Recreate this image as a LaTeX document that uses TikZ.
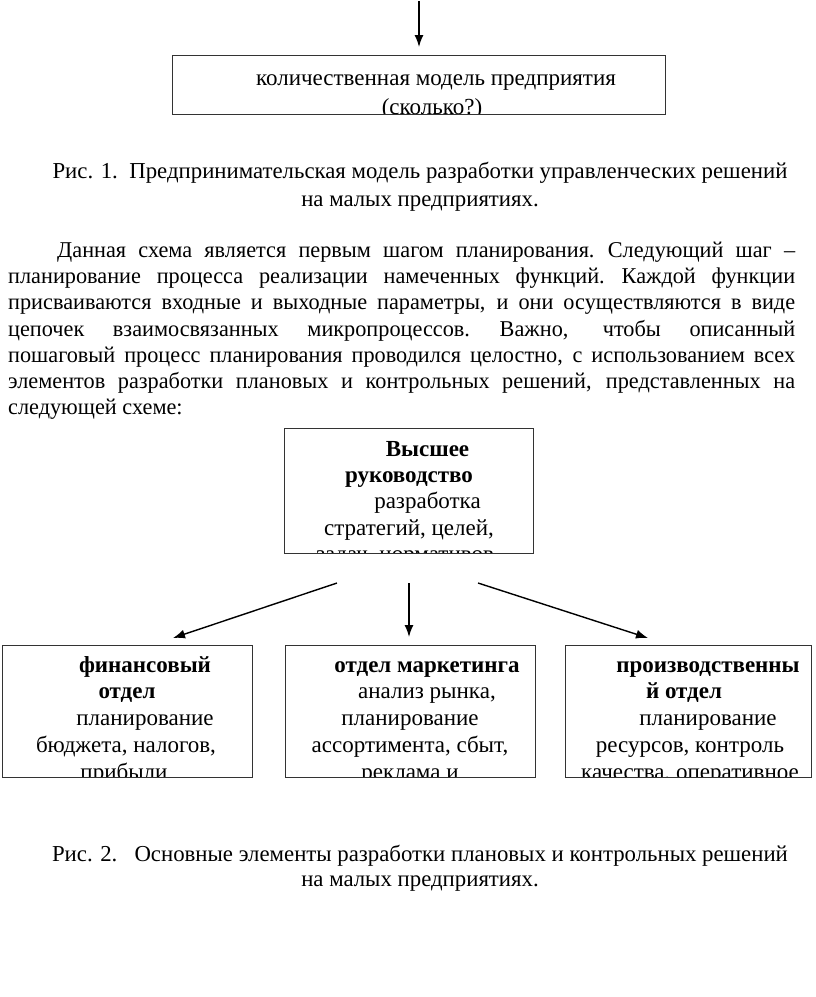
\documentclass[tikz,border=0pt]{standalone}
\usepackage{fontspec}
\setmainfont{Liberation Serif}
\newfontfamily\condfont[FakeStretch=0.985]{Liberation Serif}
\usetikzlibrary{arrows.meta}
\newcommand\myline[5][txt]{\node[#1] (#2) at (#3,#4) {#5};}
\newcommand\setparaspace{\spaceskip=0.25em plus 3em minus 0.05em\relax\xspaceskip=0.3em plus 3em minus 0.05em\relax}
\begin{document}
\begin{tikzpicture}[x=1pt,y=-1pt,
  box/.style={draw=black!80, line width=1.4pt, inner sep=0pt, anchor=north west},
  txt/.style={anchor=base, inner sep=0pt, font=\fontsize{23}{26}\selectfont},
  bld/.style={txt, font=\fontsize{23}{26}\selectfont\bfseries},
  captxt/.style={anchor=base, inner sep=0pt, font=\fontsize{22.8}{27}\selectfont},
  para/.style={anchor=base west, inner sep=0pt, text width=787pt, align=left,
    font=\condfont\fontsize{22.6}{26.2}\selectfont},
  arr/.style={-{Latex[length=12pt,width=9pt]}, line width=1.4pt}
]
\useasboundingbox (0,0) rectangle (816,997);
\fill[white] (0,0) rectangle (816,997);

% ---- box 0 ----
\node[box, minimum width=493pt, minimum height=59pt] (b0) at (172,55) {};
\coordinate (a0) at (419,1);
\draw[arr, shorten >=8pt] (a0) -- (a0 |- b0.north);
\begin{scope}
\clip (b0.north west) rectangle ([yshift=2pt]b0.south east);
\myline{b0l1}{436}{85}{количественная модель предприятия}
\myline{b0l2}{432}{114}{(сколько?)}
\end{scope}

% ---- caption 1 ----
\myline[captxt]{c1a}{420}{178}{Рис. 1.\ \ Предпринимательская модель разработки управленческих решений}
\myline[captxt]{c1b}{420}{206}{на малых предприятиях.}

% ---- paragraph ----
\node[para] (p1) at (8,257.5) {\setparaspace
\hbox to 787pt{\hspace*{49pt}Данная схема является первым шагом планирования. Следующий шаг –}
\hbox to 787pt{планирование процесса реализации намеченных функций. Каждой функции}
\hbox to 787pt{присваиваются входные и выходные параметры, и они осуществляются в виде}
\hbox to 787pt{цепочек взаимосвязанных микропроцессов. Важно, чтобы описанный}
\hbox to 787pt{пошаговый процесс планирования проводился целостно, с использованием всех}
\hbox to 787pt{элементов разработки плановых и контрольных решений, представленных на}
\hbox{следующей схеме:}};

% ---- top box ----
\node[box, minimum width=249pt, minimum height=125pt] (top) at (284,428) {};
\begin{scope}
\clip (top.north west) rectangle ([yshift=2pt]top.south east);
\myline[bld]{t1}{427.5}{456.5}{Высшее}
\myline[bld]{t2}{409}{482.7}{руководство}
\myline{t3}{427.5}{508.9}{разработка}
\myline{t4}{409}{535.1}{стратегий, целей,}
\myline{t5}{405}{561.3}{задач, нормативов}
\end{scope}

% ---- bottom boxes ----
\node[box, minimum width=250pt, minimum height=132pt] (fin) at (2,645) {};
\node[box, minimum width=250pt, minimum height=132pt] (mkt) at (285,645) {};
\node[box, minimum width=246pt, minimum height=132pt] (prd) at (565,645) {};

\begin{scope}
\clip (fin.north west) rectangle ([yshift=2pt]fin.south east);
\myline[bld]{f1}{145}{672}{финансовый}
\myline[bld]{f2}{127}{698.7}{отдел}
\myline{f3}{145}{725.3}{планирование}
\myline{f4}{126}{752}{бюджета, налогов,}
\myline{f5}{124}{779.5}{прибыли}
\end{scope}
\begin{scope}
\clip (mkt.north west) rectangle ([yshift=2pt]mkt.south east);
\myline[bld]{m1}{427}{672}{отдел маркетинга}
\myline{m2}{427}{698.7}{анализ рынка,}
\myline{m3}{410}{725.3}{планирование}
\myline{m4}{410}{752}{ассортимента, сбыт,}
\myline{m5}{410}{779.5}{реклама и}
\end{scope}
\begin{scope}
\clip (prd.north west) rectangle ([yshift=2pt]prd.south east);
\myline[bld]{r1}{708}{672}{производственны}
\myline[bld]{r2}{684}{698.7}{й отдел}
\myline{r3}{708}{725.3}{планирование}
\myline{r4}{690}{752}{ресурсов, контроль}
\myline{r5}{690}{779.5}{качества, оперативное}
\end{scope}

% ---- arrows ----
\coordinate (s1) at (337,583); \coordinate (e1) at (173,638);
\coordinate (s2) at (409,583); \coordinate (e2) at (409,637);
\coordinate (s3) at (478,583); \coordinate (e3) at (648,638);
\draw[arr] (s1) -- (e1);
\draw[arr] (s2) -- (e2);
\draw[arr] (s3) -- (e3);

% ---- caption 2 ----
\myline[captxt]{c2a}{420}{861}{Рис. 2.\ \ \ Основные элементы разработки плановых и контрольных решений}
\myline[captxt]{c2b}{420}{886}{на малых предприятиях.}
\end{tikzpicture}
\end{document}
